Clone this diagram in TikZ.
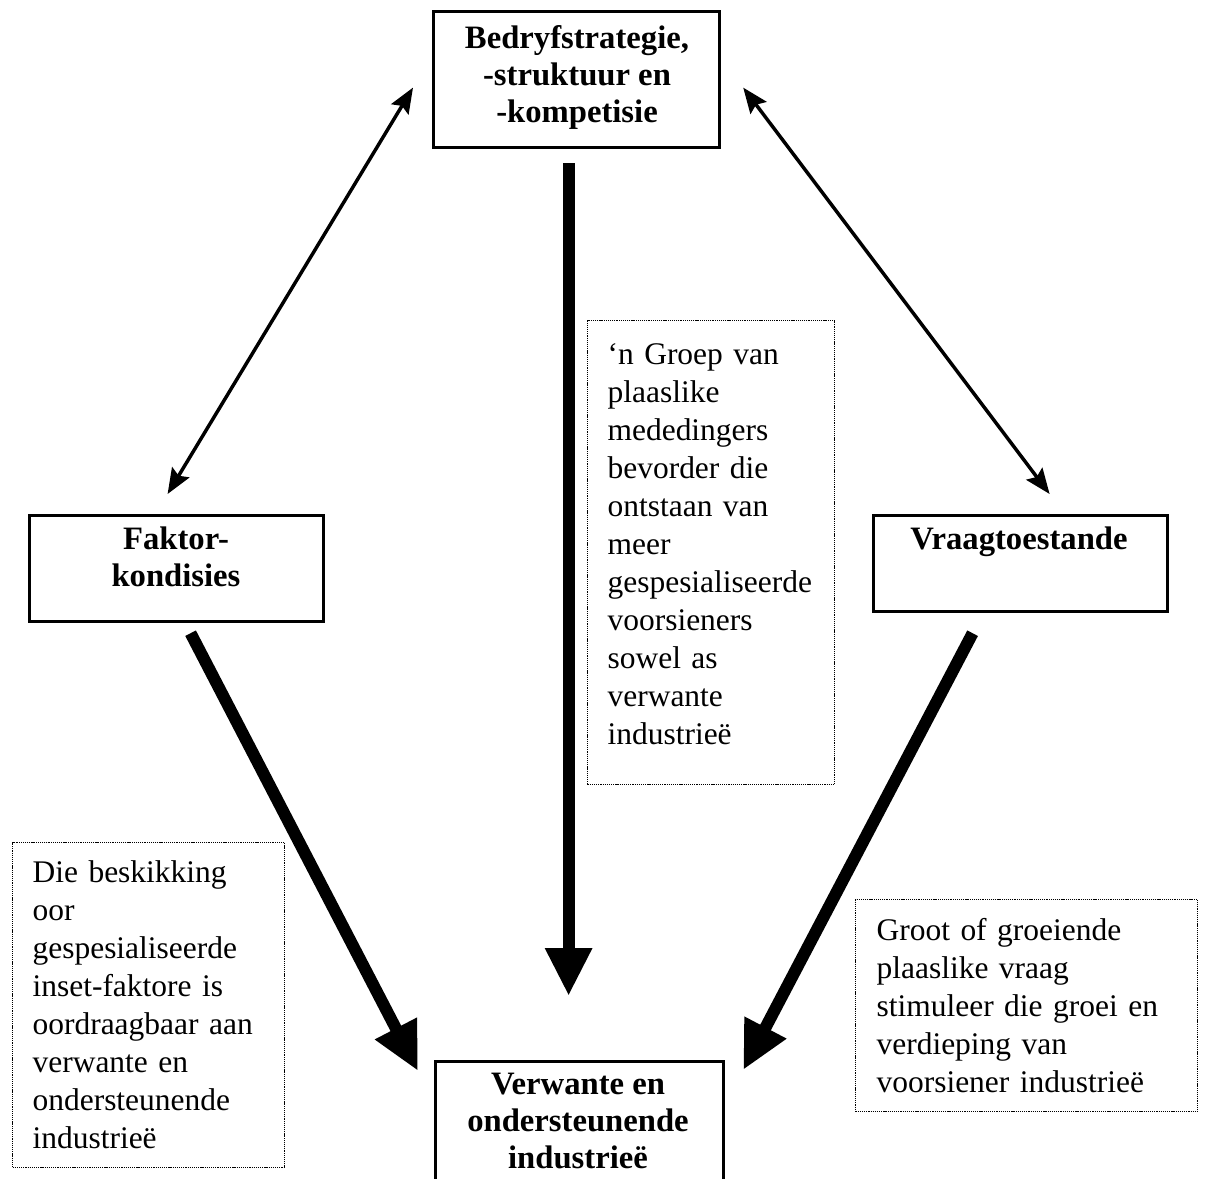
\documentclass[tikz,border=0pt]{standalone}
\usepackage{fontspec}
\setmainfont{Liberation Serif}
\usetikzlibrary{arrows.meta,calc}

\begin{document}
\begin{tikzpicture}[x=0.75pt,y=-0.75pt,
  solidbox/.style={draw, line width=2.4pt, rectangle, inner sep=0pt, anchor=north west},
  notebox/.style={draw, line width=0.9pt, dash pattern=on 0.9pt off 0.7pt, rectangle,
    anchor=north west, align=left, inner ysep=0pt,
    font=\fontsize{23.6pt}{28.5pt}\selectfont},
  boldlbl/.style={align=center, inner sep=0pt, anchor=north,
    font=\fontsize{24.5pt}{27.75pt}\selectfont\bfseries},
  duallink/.style={line width=2.6pt,
    {Stealth[length=19pt,width=15pt,inset=3pt]}-{Stealth[length=19pt,width=15pt,inset=3pt]}},
  heavylink/.style={line width=9pt, line cap=butt, -{Triangle[length=36pt,width=33pt]}}
]
\useasboundingbox (0,0) rectangle (1206,1178);
\clip (0,0) rectangle (1206,1178);

% the four determinants
\node[solidbox, minimum width=214.5pt, minimum height=102pt] (strat) at (432,10) {};
\node[boldlbl] (strat-t) at (577,25) {Bedryfstrategie,\\-struktuur en\\-kompetisie};

\node[solidbox, minimum width=220.5pt, minimum height=79.5pt] (fakt) at (28,514) {};
\node[boldlbl] (fakt-t) at (176,527) {Faktor-\\kondisies};

\node[solidbox, minimum width=220.5pt, minimum height=72pt] (vraag) at (872,514) {};
\node[boldlbl] (vraag-t) at (1019,527) {Vraagtoestande};

\node[solidbox, minimum width=216pt, minimum height=97.5pt] (verw) at (434,1060) {};
\node[boldlbl] (verw-t) at (578,1073) {Verwante en\\ondersteunende\\industrieë};

% explanatory notes (the empty last line lifts the middle text block a little)
\node[notebox, minimum width=185.25pt, minimum height=348pt, text width=155.25pt, inner xsep=15pt]
  (midnote) at (587,320)
  {‘n Groep van\\plaaslike\\mededingers\\bevorder die\\ontstaan van\\meer\\gespesialiseerde\\voorsieners\\sowel as\\verwante\\industrieë\\[-15pt]\mbox{}};

\node[notebox, minimum width=204pt, minimum height=243.75pt, text width=174pt, inner xsep=15pt]
  (leftnote) at (12,842)
  {Die beskikking\\oor\\gespesialiseerde\\inset-faktore is\\oordraagbaar aan\\verwante en\\ondersteunende\\industrieë};

\node[notebox, minimum width=256.5pt, minimum height=159pt, text width=225pt, inner xsep=15.75pt]
  (rightnote) at (855,899)
  {Groot of groeiende\\plaaslike vraag\\stimuleer die groei en\\verdieping van\\voorsiener industrieë};

% connector end points
\coordinate (a1s) at ($(strat.west)+(-19,8)$);
\coordinate (a1e) at ($(fakt.north)+(-9,-20)$);
\coordinate (a2s) at ($(strat.east)+(22,8)$);
\coordinate (a2e) at ($(vraag.north)+(29,-20)$);
\coordinate (vs) at ($(strat.south)+(-8,14)$);
\coordinate (ve) at ($(verw.north)+(-11,-64)$);
\coordinate (ls) at ($(fakt.south)+(14,10)$);
\coordinate (le) at ($(verw.north west)+(-16,11)$);
\coordinate (rs) at ($(vraag.south)+(-48,20)$);
\coordinate (re) at ($(verw.north east)+(18,10)$);

% two-way links
\draw[duallink] (a1s) -- (a1e);
\draw[duallink] (a2s) -- (a2e);

% one-way influences on the related industries
\draw[heavylink] (vs) -- (ve);
\draw[heavylink] (ls) -- (le);
\draw[heavylink] (rs) -- (re);
\end{tikzpicture}
\end{document}
